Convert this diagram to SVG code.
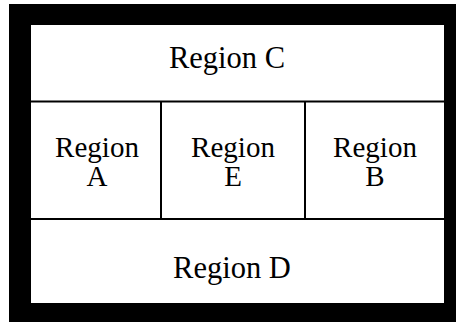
<svg xmlns="http://www.w3.org/2000/svg" width="456" height="322" viewBox="0 0 456 322">
  <style>
    .lbl { font-family: 'Liberation Serif', 'Times New Roman', Times, 'DejaVu Serif', serif; font-size: 29px; fill: #000; text-anchor: middle; }
    .wide { font-size: 30.5px; }
    .div { stroke: #000; stroke-width: 2; fill: none; }
  </style>
  <rect x="0" y="0" width="456" height="322" fill="#fff"/>
  <!-- thick black frame -->
  <rect id="frame" x="9" y="4" width="447" height="318" fill="#000"/>
  <rect x="31" y="25" width="413" height="278" fill="#fff"/>
  <!-- dividing lines -->
  <g id="connectors">
    <line class="div" x1="31" y1="101.5" x2="444" y2="101.5"/>
    <line class="div" x1="31" y1="219" x2="444" y2="219"/>
    <line class="div" x1="161" y1="101.5" x2="161" y2="219"/>
    <line class="div" x1="305" y1="101.5" x2="305" y2="219"/>
  </g>
  <g id="regionC"><text class="lbl wide" x="227" y="67.5">Region C</text></g>
  <g id="regionA"><text class="lbl" x="97" y="157">Region</text><text class="lbl" x="97" y="186">A</text></g>
  <g id="regionE"><text class="lbl" x="233" y="157">Region</text><text class="lbl" x="233" y="186">E</text></g>
  <g id="regionB"><text class="lbl" x="375" y="157">Region</text><text class="lbl" x="375" y="186">B</text></g>
  <g id="regionD"><text class="lbl wide" x="232" y="277.5">Region D</text></g>
</svg>
